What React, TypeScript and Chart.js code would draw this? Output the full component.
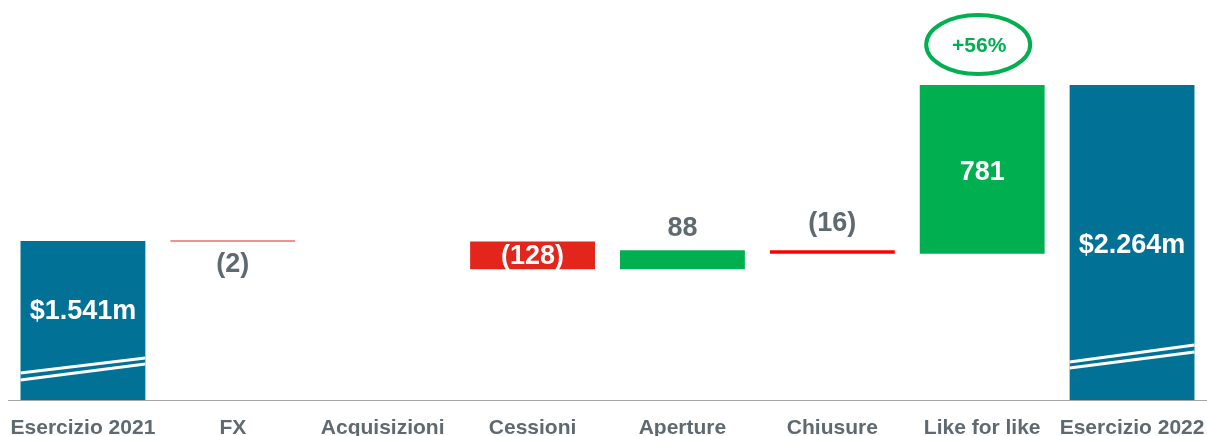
import React, { useEffect, useRef } from "react";
import { Chart, registerables } from "chart.js";

Chart.register(...registerables);

// ---- data ----
const categories = [
  "Esercizio 2021",
  "FX",
  "Acquisizioni",
  "Cessioni",
  "Aperture",
  "Chiusure",
  "Like for like",
  "Esercizio 2022",
];
const openingTotal = 1541;
const deltas = [-2, 0, -128, 88, -16, 781];
const closingTotal = 2264;
const totalLabels = ["$1.541m", "$2.264m"];
const growthLabel = "+56%";
const axisMin = 805; // truncated (broken) axis
const axisMax = 2658;

// ---- derived ----
const ranges: ([number, number] | null)[] = [];
const valueLabels: string[] = [];
ranges.push([axisMin, openingTotal]);
valueLabels.push(totalLabels[0]);
let running = openingTotal;
deltas.forEach((d) => {
  if (d === 0) {
    ranges.push(null);
    valueLabels.push("");
  } else {
    ranges.push([running, running + d]);
    valueLabels.push(d < 0 ? `(${Math.abs(d)})` : `${d}`);
  }
  running += d;
});
ranges.push([axisMin, closingTotal]);
valueLabels.push(totalLabels[1]);

// ---- styles ----
const BLUE = "#017196";
const GREEN = "#00B050";
const RED = "#E3251C";
const BRIGHT_RED = "#FF0000";
const GRAY = "#5E6970";
const barColors = [BLUE, RED, GREEN, RED, GREEN, BRIGHT_RED, GREEN, BLUE];
// placement: anchor + dy
const labelPlacement: { mode: string; dy: number; color: string }[] = [
  { mode: "center", dy: -9, color: "#FFFFFF" },
  { mode: "below", dy: 23, color: GRAY },
  { mode: "none", dy: 0, color: GRAY },
  { mode: "center", dy: 1, color: "#FFFFFF" },
  { mode: "above", dy: -22, color: GRAY },
  { mode: "above", dy: -27, color: GRAY },
  { mode: "center", dy: 3, color: "#FFFFFF" },
  { mode: "center", dy: 3, color: "#FFFFFF" },
];
const FONT = "'Liberation Sans', Arial, sans-serif";

const labelsPlugin = {
  id: "wfLabels",
  afterDatasetsDraw(chart: any) {
    const ctx = chart.ctx;
    const meta = chart.getDatasetMeta(0);
    ctx.save();
    ctx.textAlign = "center";
    ctx.textBaseline = "middle";
    ctx.font = `bold 27px ${FONT}`;
    meta.data.forEach((el: any, i: number) => {
      const p = labelPlacement[i];
      if (!ranges[i] || p.mode === "none") return;
      const top = Math.min(el.y, el.base);
      const bottom = Math.max(el.y, el.base);
      let y = (top + bottom) / 2;
      if (p.mode === "above") y = top;
      if (p.mode === "below") y = bottom;
      ctx.fillStyle = p.color;
      ctx.fillText(valueLabels[i], el.x, y + p.dy);
    });

    // axis break marks on the two total bars
    const breaks: { i: number; l1: number; r1: number; l2: number; r2: number }[] = [
      { i: 0, l1: 27, r1: 42, l2: 20, r2: 36 },
      { i: categories.length - 1, l1: 38, r1: 55, l2: 32, r2: 48 },
    ];
    ctx.strokeStyle = "#FFFFFF";
    ctx.lineWidth = 3;
    breaks.forEach((b) => {
      const el: any = meta.data[b.i];
      const half = el.width / 2;
      const base = Math.max(el.y, el.base);
      ctx.beginPath();
      ctx.moveTo(el.x - half, base - b.l1);
      ctx.lineTo(el.x + half, base - b.r1);
      ctx.moveTo(el.x - half, base - b.l2);
      ctx.lineTo(el.x + half, base - b.r2);
      ctx.stroke();
    });

    // growth annotation above "Like for like"
    const g: any = meta.data[6];
    const gTop = Math.min(g.y, g.base);
    const cx = g.x - 4;
    const cy = gTop - 40.5;
    ctx.strokeStyle = GREEN;
    ctx.lineWidth = 4;
    ctx.beginPath();
    ctx.ellipse(cx, cy, 52, 29.5, 0, 0, Math.PI * 2);
    ctx.stroke();
    ctx.fillStyle = GREEN;
    ctx.font = `bold 21px ${FONT}`;
    ctx.fillText(growthLabel, cx + 1, cy + 2);
    ctx.restore();
  },
};

export default function App() {
  const ref = useRef<HTMLCanvasElement>(null);
  useEffect(() => {
    if (!ref.current) return;
    const chart = new Chart(ref.current, {
      type: "bar",
      data: {
        labels: categories,
        datasets: [
          {
            data: ranges as any,
            backgroundColor: barColors,
            borderWidth: 0,
            barPercentage: 0.833,
            categoryPercentage: 1,
            minBarLength: 1,
            borderSkipped: false,
          },
        ],
      },
      options: {
        animation: false,
        responsive: false,
        maintainAspectRatio: false,
        layout: { padding: { left: 8, right: 0, top: 0, bottom: 0 } },
        plugins: {
          legend: { display: false },
          tooltip: { enabled: false },
        },
        scales: {
          x: {
            grid: { display: false },
            border: { display: true, color: "#A6A6A6", width: 1 },
            ticks: {
              color: GRAY,
              font: { family: FONT, size: 21, weight: "bold" },
              padding: 8,
              maxRotation: 0,
              autoSkip: false,
            },
            afterFit: (s: any) => {
              s.height = 36;
              s.paddingLeft = 0;
              s.paddingRight = 0;
            },
          },
          y: {
            display: false,
            min: axisMin,
            max: axisMax,
          },
        },
      },
      plugins: [labelsPlugin],
    });
    return () => chart.destroy();
  }, []);
  return (
    <div style={{ position: "absolute", left: 0, top: 0, width: 1207, height: 436, background: "#fff" }}>
      <canvas ref={ref} width={1207} height={436} style={{ width: 1207, height: 436 }} />
    </div>
  );
}
